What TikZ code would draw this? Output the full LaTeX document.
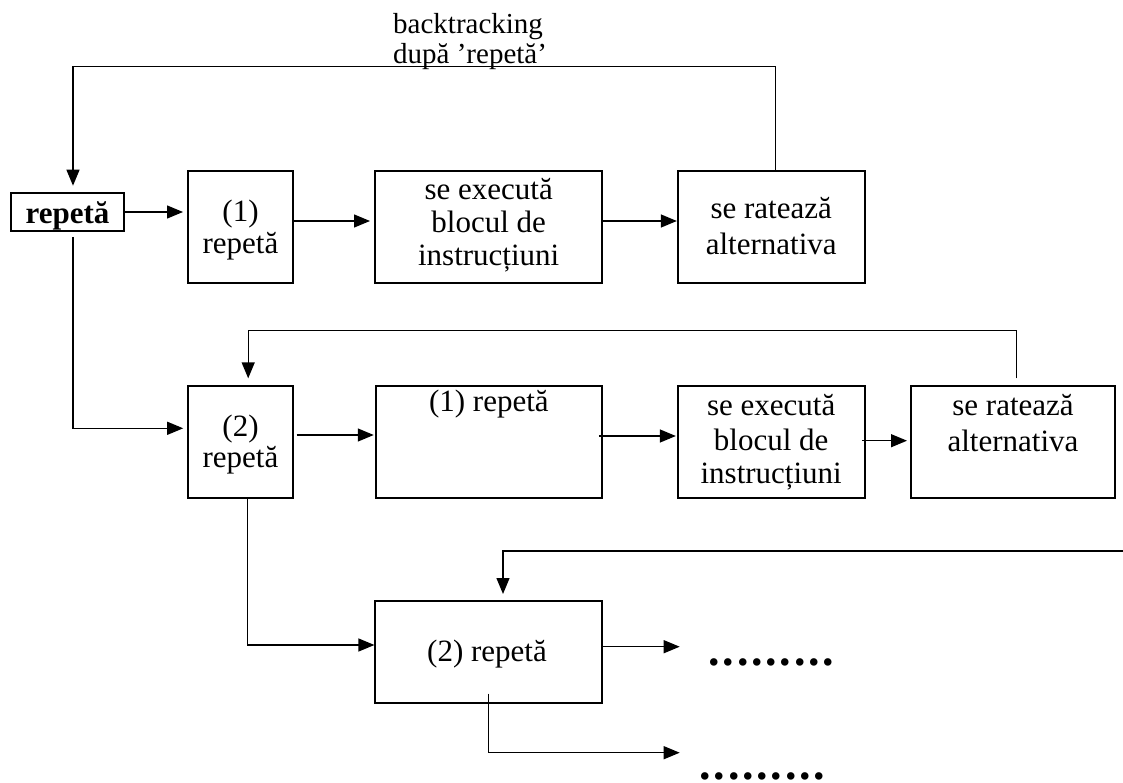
\documentclass[tikz,border=0pt]{standalone}
\usepackage{fontspec}
\setmainfont{Liberation Serif}
\usetikzlibrary{arrows.meta}
\newcommand\dotrowtext{.\kern2.8pt.\kern2.8pt.\kern2.8pt.\kern2.8pt.\kern2.8pt.\kern2.8pt.\kern2.8pt.\kern2.8pt.}
\begin{document}
\begin{tikzpicture}[x=1pt,y=-1pt,
  box/.style={draw, line width=2pt, inner sep=0pt},
  txt/.style={anchor=base, inner sep=0pt, font=\fontsize{31}{33}\selectfont},
  arr/.style={line width=1.3pt, -{Triangle[length=16pt,width=13pt]}},
  dots/.style={anchor=base west, inner sep=0pt, text depth=0pt, font=\bfseries\fontsize{46}{50}\selectfont}]
\useasboundingbox (0,0) rectangle (1123,783);

% boxes
\node[box, minimum width=113.3pt, minimum height=38pt]  (rep) at (67.3,212) {};
\node[box, minimum width=105.6pt, minimum height=112.3pt] (b1) at (240.5,227) {};
\node[box, minimum width=227.4pt, minimum height=112.3pt] (e1) at (488.7,227) {};
\node[box, minimum width=186.7pt, minimum height=112.3pt] (r1) at (771.2,227) {};
\node[box, minimum width=105.6pt, minimum height=112.3pt] (b2) at (240.5,442.2) {};
\node[box, minimum width=226.3pt, minimum height=112.3pt] (p1) at (488.9,442.2) {};
\node[box, minimum width=186.7pt, minimum height=112.3pt] (e2) at (771.2,442.2) {};
\node[box, minimum width=204pt,   minimum height=112.3pt] (r2) at (1013,442.2) {};
\node[box, minimum width=226.6pt, minimum height=102pt]   (b3) at (488.7,651.7) {};

% texts
\node[anchor=base west, inner sep=0pt, font=\fontsize{29}{30}\selectfont] (bt1) at (393,33.3) {backtracking};
\node[anchor=base west, inner sep=0pt, font=\fontsize{29}{30}\selectfont] (bt2) at (393,63.3) {după ’repetă’};
\node[txt, font=\bfseries\fontsize{31}{33}\selectfont] (trep) at (67.5,223.3) {repetă};
\node[txt] (tb1a) at (240.5,221.7) {(1)};
\node[txt] (tb1b) at (240.5,253.3) {repetă};
\node[txt] (te1a) at (488.7,200) {se execută};
\node[txt] (te1b) at (488.7,233) {blocul de};
\node[txt] (te1c) at (488.7,265.5) {instrucțiuni};
\node[txt] (tr1a) at (771.2,218.3) {se ratează};
\node[txt] (tr1b) at (771.2,255) {alternativa};
\node[txt] (tb2a) at (240.5,436.7) {(2)};
\node[txt] (tb2b) at (240.5,467.3) {repetă};
\node[txt] (tp1) at (488.9,411.7) {(1) repetă};
\node[txt] (te2a) at (771.2,415) {se execută};
\node[txt] (te2b) at (771.2,450) {blocul de};
\node[txt] (te2c) at (771.2,483.3) {instrucțiuni};
\node[txt] (tr2a) at (1013,415) {se ratează};
\node[txt] (tr2b) at (1013,451.7) {alternativa};
\node[txt] (tb3) at (487,661.7) {(2) repetă};
\node[dots] (d1) at (708.3,665.8) {\dotrowtext};
\node[dots] (d2) at (699.3,779.3) {\dotrowtext};

% free ends
\coordinate (fr3) at (1123,551);
\coordinate (e3a) at (679.7,646.7);
\coordinate (e3b) at (679.7,752.7);

% row 1
\draw[arr] ([xshift=4.2pt]r1.north) -- ++(0,-103.3) -| ([xshift=5.7pt,yshift=6.3pt]rep.north);
\draw[arr] ([xshift=-2pt]rep.east) -- ([yshift=15pt,xshift=-3.7pt]b1.west);
\draw[arr] ([yshift=6pt]b1.east) -- ([yshift=6pt,xshift=-4pt]e1.west);
\draw[arr] ([yshift=6pt]e1.east) -- ([yshift=6pt]r1.west);
\draw[arr] ([xshift=5.7pt,yshift=-5pt]rep.south) |- ([yshift=13.9pt,xshift=-3.5pt]b2.west);

% row 2
\draw[arr] ([xshift=3.7pt,yshift=6.7pt]r2.north) -- ++(0,-47.6) -| ([xshift=7.7pt,yshift=6.7pt]b2.north);
\draw[arr] ([xshift=2.4pt,yshift=7.2pt]b2.east) -- ([yshift=7.2pt,xshift=-1pt]p1.west);
\draw[arr] ([xshift=-4.3pt,yshift=6.2pt]p1.east) -- ([yshift=6.2pt,xshift=-1pt]e2.west);
\draw[arr] ([xshift=-3.5pt,yshift=1.5pt]e2.east) -- ([yshift=1.5pt,xshift=-3pt]r2.west);
\draw[arr] ([xshift=7pt]b2.south) |- ([yshift=6.7pt]b3.west);

% row 3
\draw[arr] (fr3) -| ([xshift=14.3pt,yshift=5.7pt]b3.north);
\draw[arr] ([yshift=5pt]b3.east) -- (e3a);
\draw[arr] ([yshift=10pt]b3.south) |- (e3b);
\end{tikzpicture}
\end{document}
